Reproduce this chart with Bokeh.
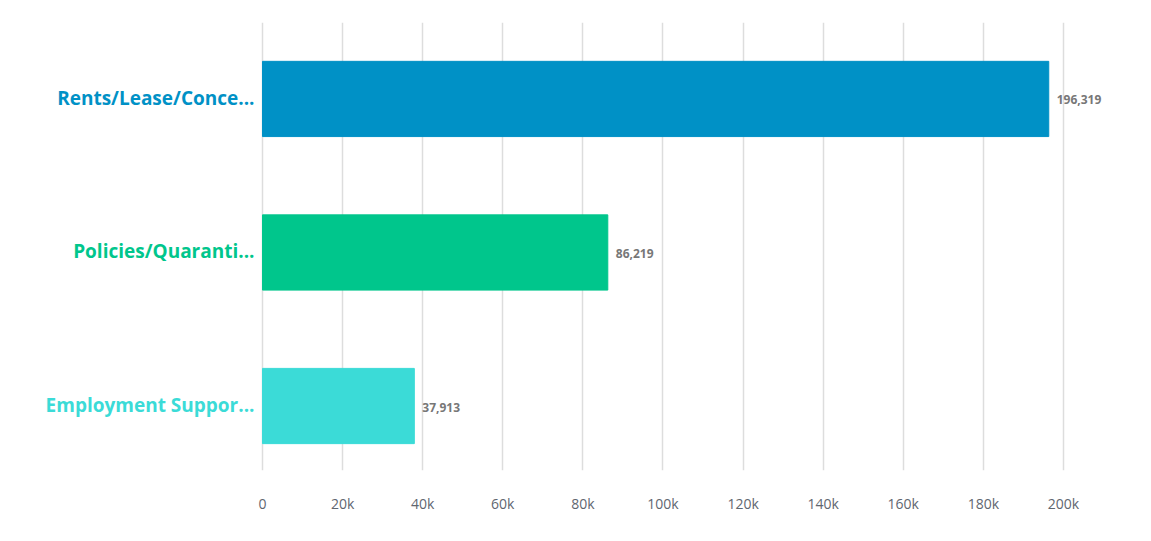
from bokeh.plotting import figure
from bokeh.models import ColumnDataSource, FixedTicker, Range1d
from bokeh.core.properties import value
from bokeh.embed import file_html
from bokeh.resources import INLINE

categories = ["Rents/Lease/Conce...", "Policies/Quaranti...", "Employment Suppor..."]
values = [196319, 86219, 37913]
colors = ["#0091C6", "#00C68C", "#3BDBD7"]
value_labels = ["196,319", "86,219", "37,913"]
tick_values = [0, 20000, 40000, 60000, 80000, 100000, 120000, 140000, 160000, 180000, 200000]
tick_labels = ["0", "20k", "40k", "60k", "80k", "100k", "120k", "140k", "160k", "180k", "200k"]

ypos = [len(categories) - 1 - i for i in range(len(categories))]
src = ColumnDataSource(dict(cat=categories, val=values, color=colors, vlab=value_labels,
                            y=ypos, zero=[0] * len(values)))

p = figure(width=1135, height=525, output_backend="svg", toolbar_location=None,
           y_range=Range1d(-0.42, 2.498), x_range=Range1d(-65418, 217978),
           min_border_left=0, min_border_right=0, min_border_top=22, min_border_bottom=55)

p.hbar(y="y", right="val", left=0, height=0.49, color="color", source=src)

p.text(x="val", y="y", text="vlab", source=src, x_offset=8, y_offset=1,
       text_baseline="middle", text_align="left", text_font=value("Open Sans"),
       text_font_style="bold", text_font_size="12px", text_color="#777777")
p.text(x="zero", y="y", text="cat", source=src, x_offset=-8, y_offset=-1,
       text_baseline="middle", text_align="right", text_font=value("Open Sans"),
       text_font_style="bold", text_font_size="19px", text_color="color")

p.outline_line_color = None
p.yaxis.visible = False
p.ygrid.grid_line_color = None
p.xgrid.ticker = FixedTicker(ticks=tick_values)
p.xgrid.grid_line_color = "#dddddd"
p.xgrid.grid_line_width = 1.5
p.xaxis.ticker = FixedTicker(ticks=tick_values)
p.xaxis.major_label_overrides = {v: l for v, l in zip(tick_values, tick_labels)}
p.xaxis.axis_line_color = None
p.xaxis.major_tick_line_color = None
p.xaxis.minor_tick_line_color = None
p.xaxis.major_label_text_font = "Open Sans"
p.xaxis.major_label_text_font_size = "14px"
p.xaxis.major_label_text_font_style = "normal"
p.xaxis.major_label_text_color = "#5f6670"
p.xaxis.major_label_standoff = 17

open("out.html", "w").write(file_html(p, INLINE))
